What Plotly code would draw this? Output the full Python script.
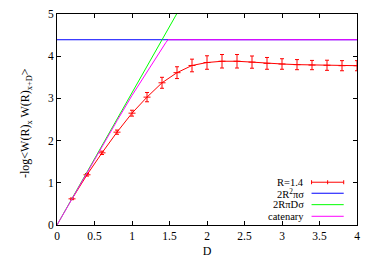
import plotly.graph_objects as go

# ---- data ----
D_data = [0.2, 0.4, 0.6, 0.8, 1.0, 1.2, 1.4, 1.6, 1.8, 2.0,
          2.2, 2.4, 2.6, 2.8, 3.0, 3.2, 3.4, 3.6, 3.8, 4.0]
W_data = [0.62, 1.19, 1.71, 2.20, 2.65, 3.03, 3.37, 3.61, 3.78, 3.85,
          3.88, 3.88, 3.86, 3.83, 3.815, 3.80, 3.79, 3.785, 3.775, 3.775]
W_err = [0.02, 0.03, 0.04, 0.05, 0.07, 0.11, 0.13, 0.14, 0.15, 0.16,
         0.16, 0.16, 0.145, 0.14, 0.125, 0.12, 0.11, 0.12, 0.12, 0.12]

D_disc = [0.0, 4.0]
W_disc = [4.39, 4.39]            # 2R^2 pi sigma

D_cyl = [0.0, 1.595]
W_cyl = [0.0, 5.0]               # 2R pi D sigma

D_cat = [0.0, 0.4, 0.8, 1.0, 1.2, 1.3, 1.4, 1.45, 1.48, 4.0]
W_cat = [0.0, 1.25, 2.47, 3.07, 3.64, 3.92, 4.19, 4.32, 4.39, 4.39]

x_ticks = [0, 0.5, 1, 1.5, 2, 2.5, 3, 3.5, 4]
x_tick_labels = ["0", "0.5", "1", "1.5", "2", "2.5", "3", "3.5", "4"]
y_ticks = [0, 1, 2, 3, 4, 5]
y_tick_labels = ["0", "1", "2", "3", "4", "5"]

legend_labels = ["R=1.4", "2R<sup>2</sup>πσ", "2RπDσ", "catenary"]
legend_colors = ["#ff0000", "#0000ff", "#00ff00", "#ff00ff"]

y_title = "-log&lt;W(R)<sub>x</sub> W(R)<sub>x+D</sub>&gt;"
x_title = "D"

FONT = "Liberation Serif"

# page body has an 8px margin; the figure is sized to the visible area
W, H = 366, 254
M_L, M_R, M_T, M_B = 49, 17, 6, 37
plot_w = W - M_L - M_R
plot_h = H - M_T - M_B

fig = go.Figure()
fig.add_trace(go.Scatter(
    x=D_data, y=W_data, mode="lines+markers",
    line=dict(color="#ff0000", width=1),
    marker=dict(symbol="line-ew", size=5, line=dict(color="#ff0000", width=1)),
    error_y=dict(type="data", array=W_err, color="#ff0000", thickness=1, width=2),
    showlegend=False))
fig.add_trace(go.Scatter(x=D_disc, y=W_disc, mode="lines",
                         line=dict(color="#0000ff", width=1), showlegend=False))
fig.add_trace(go.Scatter(x=D_cyl, y=W_cyl, mode="lines",
                         line=dict(color="#00ff00", width=1), showlegend=False))
fig.add_trace(go.Scatter(x=D_cat, y=W_cat, mode="lines",
                         line=dict(color="#ff00ff", width=1), showlegend=False))

# custom gnuplot-like legend (text right-aligned, sample on the right)
px = 1.0 / plot_h
row_y = [0.2027, 0.1505, 0.0964, 0.0413]
x_text = 0.827
x0s, x1s = 0.8485, 0.9557
shapes = []
annotations = []
for lab, col, yy in zip(legend_labels, legend_colors, row_y):
    annotations.append(dict(x=x_text, y=yy, xref="paper", yref="paper",
                            text=lab, showarrow=False, xanchor="right",
                            yanchor="middle", borderpad=0,
                            font=dict(family=FONT, size=10.5, color="black")))
    shapes.append(dict(type="line", xref="paper", yref="paper",
                       x0=x0s, x1=x1s, y0=yy, y1=yy,
                       line=dict(color=col, width=1)))
# error-bar glyph in the first legend entry
for xx in (x0s, (x0s + x1s) / 2, x1s):
    shapes.append(dict(type="line", xref="paper", yref="paper",
                       x0=xx, x1=xx, y0=row_y[0] - 2 * px, y1=row_y[0] + 2 * px,
                       line=dict(color=legend_colors[0], width=1)))

# y-axis title placed as rotated text
annotations.append(dict(x=(18 - M_L) / plot_w, y=(217 - 115) / plot_h,
                        xref="paper", yref="paper", text=y_title,
                        textangle=-90, showarrow=False,
                        xanchor="center", yanchor="middle",
                        font=dict(family=FONT, size=12, color="black")))

fig.update_layout(
    width=W, height=H,
    margin=dict(l=M_L, r=M_R, t=M_T, b=M_B),
    paper_bgcolor="white", plot_bgcolor="white",
    font=dict(family=FONT, size=11.5, color="black"),
    shapes=shapes, annotations=annotations,
)
fig.update_xaxes(range=[0, 4], tickvals=x_ticks, ticktext=x_tick_labels,
                 showgrid=False, zeroline=False, showline=True, linecolor="black",
                 linewidth=1, mirror="ticks", ticks="inside", ticklen=4,
                 tickcolor="black", automargin=False,
                 title=dict(text=x_title, font=dict(family=FONT, size=12), standoff=5))
fig.update_yaxes(range=[0, 5], tickvals=y_ticks, ticktext=y_tick_labels,
                 showgrid=False, zeroline=False, showline=True, linecolor="black",
                 linewidth=1, mirror="ticks", ticks="inside", ticklen=4,
                 tickcolor="black", automargin=False)

fig.write_html("out.html")
